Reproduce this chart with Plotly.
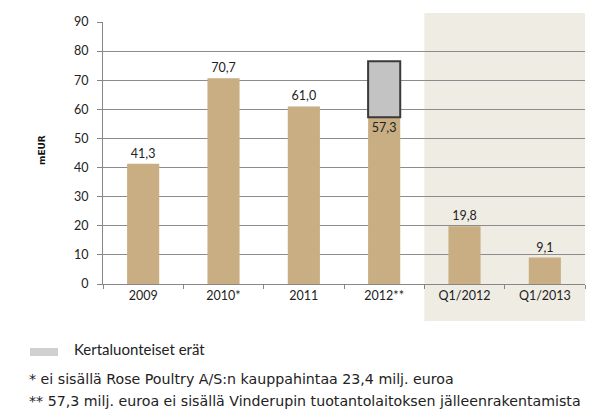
import plotly.graph_objects as go

categories = ["2009", "2010*", "2011", "2012**", "Q1/2012", "Q1/2013"]
values = [41.3, 70.7, 61.0, 57.3, 19.8, 9.1]
oneoff_category = ["2012**"]
oneoff_base = [57.3]
oneoff_value = [19.2]
y_ticks = [0, 10, 20, 30, 40, 50, 60, 70, 80, 90]
legend_label = "Kertaluonteiset erät"
footnotes = [
    "* ei sisällä Rose Poultry A/S:n kauppahintaa 23,4 milj. euroa",
    "** 57,3 milj. euroa ei sisällä Vinderupin tuotantolaitoksen jälleenrakentamista",
]

W, H = 600, 418
L, R, T, B = 103, 15, 22, 134
pw, ph = W - L - R, H - T - B

def px(x):
    return (x - L) / pw

def py(y):
    return (H - B - y) / ph

bar_color = "#C8AE82"
text_font = dict(family="Lato, 'Open Sans', sans-serif", size=12.5, color="#222222")

fig = go.Figure()
positions = ["inside" if c == "2012**" else "outside" for c in categories]
fig.add_trace(go.Bar(
    x=categories, y=values, marker=dict(color=bar_color, line=dict(width=0)),
    width=0.4, texttemplate="%{y:.1f}", textposition=positions,
    insidetextanchor="end", textfont=text_font, cliponaxis=False,
    showlegend=False, hoverinfo="skip",
))
fig.add_trace(go.Bar(
    x=oneoff_category, y=oneoff_value, base=oneoff_base,
    marker=dict(color="#C3C3C3", line=dict(color="#3A3A3A", width=2)),
    width=0.4, showlegend=False, hoverinfo="skip",
))

shapes = [
    dict(type="rect", xref="x", yref="paper", x0=3.5, x1=5.53,
         y0=py(321), y1=py(13), fillcolor="#EFECE4", line=dict(width=0), layer="below"),
    dict(type="rect", xref="paper", yref="paper", x0=px(30), x1=px(58),
         y0=py(356), y1=py(348), fillcolor="#D0D0D0", line=dict(width=0)),
]

note_font = "DejaVu Sans"
annotations = [
    dict(text=legend_label, xref="paper", yref="paper", x=px(72), y=py(349),
         xanchor="left", yanchor="middle", showarrow=False,
         font=dict(family="Lato", size=15, color="#222222")),
    dict(text=footnotes[0], xref="paper", yref="paper", x=px(27), y=py(379),
         xanchor="left", yanchor="middle", showarrow=False,
         font=dict(family=note_font, size=14.2, color="#222222")),
    dict(text=footnotes[1], xref="paper", yref="paper", x=px(27), y=py(401),
         xanchor="left", yanchor="middle", showarrow=False,
         font=dict(family=note_font, size=14.2, color="#222222")),
    dict(text="<b>mEUR</b>", xref="paper", yref="paper", x=px(42), y=py(150),
         xanchor="center", yanchor="middle", textangle=-90, showarrow=False,
         font=dict(family="DejaVu Sans", size=9, color="#111111")),
]

fig.update_layout(
    width=W, height=H, margin=dict(l=L, r=R, t=T, b=B, pad=0),
    paper_bgcolor="white", plot_bgcolor="rgba(0,0,0,0)",
    barmode="overlay", separators=", ",
    shapes=shapes, annotations=annotations,
    font=text_font,
    xaxis=dict(type="category", range=[-0.5, 5.5], showline=True, linecolor="#868686",
               linewidth=1, ticks="outside", tickson="boundaries", ticklen=4,
               tickcolor="#868686", showgrid=False, tickfont=text_font),
    yaxis=dict(range=[0, 90], tickvals=y_ticks, showline=True, linecolor="#868686",
               linewidth=1, ticks="outside", ticklen=5, tickcolor="#868686",
               gridcolor="#8C8C8C", gridwidth=1, zeroline=False, tickfont=text_font,
               ticklabelstandoff=6),
)

fig.write_html("out.html")
